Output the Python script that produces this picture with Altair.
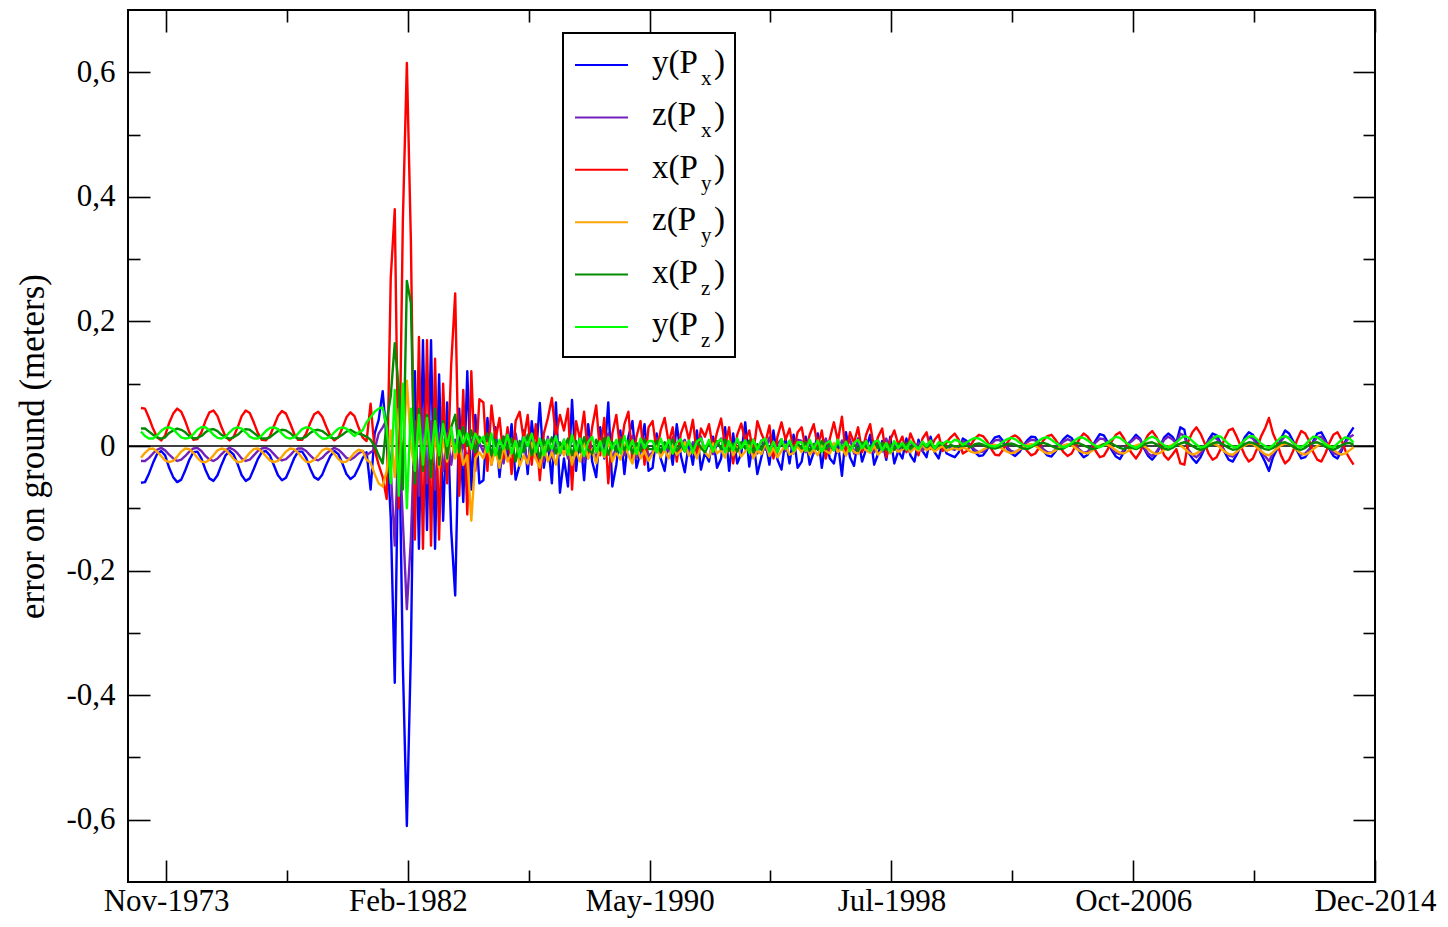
import altair as alt
import pandas as pd

# ---------------- data (in millimetres) ----------------
START_DATE = "1973-01-23"   # first sample
STEP_DAYS = 50              # sampling step of the series

# y(Px)  blue
y_Px = [
    -59,-58,-44,-27,-13,-8,-15,-35,-50,-58,-54,-39,-22,-10,-9,-20,-38,-52,-56,-47,-30,-15,-8,-14,-29,-47,-56,-52,-37,-21,-10,-8,-15,-31,-47,-55,-51,-36,-20,-9,-9,-19,-36,-50,-54,-46,-30,-16,-8,-13,-28,-45,-53,
    -48,-35,-20,-10,-70,20,42,88,10,-115,-380,60,-350,-610,-330,120,-165,170,-135,170,-165,115,-120,70,-135,-240,60,-90,120,-70,50,-60,
    -55,45,-30,30,-50,15,-20,35,-54,-30,25,-45,40,-20,69,-35,10,-60,70,-75,
    -20,-65,74,-40,20,-55,35,-25,-50,30,-20,70,-65,-30,25,-45,15,40,-35,-10,35,-40,
    -35,20,-20,-40,10,-30,35,-15,-42,5,-30,25,-38,-10,-25,15,-35,-20,30,-40,20,-28,-12,38,-33,10,-45,-18,8,-30,25,-22,-38,12,-28,18,-35,
    -25,15,-30,-10,20,-35,10,-20,-28,5,-48,22,-18,-32,12,-25,-5,18,-30,-12,8,-22,15,-28,-8,
    -20,12,-15,-25,10,-8,-18,15,-10,-20,5,-12,-15,-18,-10,
    12,8,0,-10,-16,-15,-6,5,14,16,8,-4,-12,-16,-10,0,9,15,14,4,-8,-15,-17,-9,2,11,17,13,2,-10,-18,-14,-3,9,19,17,6,-7,-17,-21,-10,4,
    10,18,12,-4,-16,-22,-14,0,14,20,15,5,30,26,-10,-20,-27,-18,-4,10,20,17,5,-10,-22,-25,-14,0,14,22,18,5,-12,-25,-40,-18,-5,12,25,20,8,-8,-20,-18,-8,8,20,22,10,-5,-16,-20,-8,8,20,30,
]

# z(Px)  indigo
z_Px = [
    -24,-24,-19,-12,-6,-3,-7,-14,-20,-24,-22,-16,-9,-4,-3,-8,-16,-22,-24,-20,-13,-7,-3,-6,-12,-20,-24,-22,-15,-8,-4,-3,-6,-13,-20,-23,-21,-15,-8,-4,-4,-8,-15,-21,-23,-19,-12,-7,-3,-6,-12,-19,-22,
    -18,-12,-8,-15,-10,-6,20,30,42,-38,-160,30,-120,-262,-150,40,-80,60,-60,40,-70,20,-40,20,-30,10,-25,5,-20,10,-15,5,
    -10,15,-25,10,-5,-28,12,-15,20,-20,5,-30,18,-10,10,-25,15,-20,8,-15,
    10,-20,18,-12,5,-25,15,-8,-18,12,-10,20,-22,0,14,-15,6,16,-20,2,12,-16,
    -10,12,-15,5,-8,14,-12,3,10,-14,6,-5,15,-11,8,-13,2,12,-9,7,-15,10,-4,13,-10,5,-12,9,-6,14,-13,4,11,-8,6,-12,10,
    8,-10,5,-12,10,-6,12,-9,3,-11,9,-4,11,-12,6,-8,10,-5,-10,7,-9,12,-7,4,-11,
    4,-6,7,-3,5,-8,2,6,-5,3,-7,0,-4,-6,-2,
    8,5,0,-6,-10,-9,-4,3,9,10,5,-2,-8,-10,-6,0,6,10,9,3,-5,-10,-11,-6,1,7,11,8,1,-6,-11,-9,-2,6,12,11,4,-4,-11,-13,-6,3,
    8,14,10,-2,-12,-16,-10,0,10,15,11,4,20,16,-6,-14,-18,-12,-2,8,14,12,3,-8,-15,-17,-10,0,10,15,12,3,-8,-16,-24,-12,-3,8,16,13,5,-6,-14,-12,-5,6,14,15,7,-4,-11,-14,-5,6,14,18,
]

# x(Py)  red
x_Py = [
    61,60,45,28,14,9,17,37,52,60,55,40,22,10,11,22,40,54,57,48,30,15,9,15,30,48,57,53,38,21,10,9,16,32,48,56,52,37,20,10,10,20,37,51,55,47,31,16,9,14,29,46,54,
    48,30,14,8,68,-6,-30,-50,-85,270,380,-100,360,615,330,-150,175,-165,170,-160,140,-150,100,-60,130,245,-80,90,-110,120,-40,75,
    70,-40,65,10,45,-20,30,-45,40,55,10,50,-30,35,-55,20,45,77,15,50,
    25,60,-70,40,10,55,-20,30,65,-15,45,-60,20,50,-10,35,55,-25,15,40,-30,30,
    40,-10,25,45,5,30,-25,20,38,10,42,-15,28,15,35,-5,22,44,0,30,-28,18,36,8,25,-12,40,20,5,33,-20,15,38,10,28,-8,22,
    30,-5,18,35,0,25,-20,12,38,8,47,-15,22,5,30,-10,18,35,-5,15,28,-18,10,25,2,
    15,-10,20,5,-15,12,22,-5,10,18,-8,6,14,20,10,
    -12,-8,2,12,18,16,8,-4,-14,-15,-6,5,14,17,12,2,-8,-15,-12,-2,9,16,18,10,0,-10,-16,-12,0,12,20,15,5,-8,-18,-16,-5,8,18,22,12,-2,
    -12,-20,-10,5,18,24,15,2,-15,-22,-14,-5,-28,-30,8,22,30,20,5,-12,-22,-18,-5,12,25,28,15,0,-15,-25,-20,-5,15,28,45,20,5,-15,-28,-22,-8,10,24,20,8,-10,-22,-25,-12,5,18,22,10,-8,-20,-30,
]

# z(Py)  orange
z_Py = [
    -19,-11,-5,-4,-9,-16,-23,-26,-24,-17,-9,-4,-5,-11,-19,-25,-26,-22,-15,-7,-4,-6,-13,-21,-26,-25,-19,-11,-5,-4,-9,-16,-23,-26,-24,-17,-9,-4,-5,-11,-19,-25,-26,-22,-15,-7,-4,-6,-13,-21,-26,-25,-19,
    -11,-6,-8,-22,-27,-45,-60,-65,-40,25,-50,60,-30,105,0,-40,40,-30,30,-40,20,-35,10,-25,15,-20,5,-30,-15,-120,-20,-10,
    -20,5,-30,-5,-35,0,-25,-10,8,-32,-15,-28,5,-20,-35,0,-25,-10,-30,5,
    -15,5,-30,-8,-25,8,-20,-5,-28,0,-18,10,-25,-10,-22,3,-15,-28,5,-20,-8,-24,
    -12,5,-18,-6,-20,2,-14,-8,6,-16,-4,-20,0,-10,-18,4,-12,-6,-19,8,-15,-2,-17,-9,3,-20,-7,-13,5,-16,-3,-18,-8,2,-14,-11,0,
    -10,3,-14,-5,-15,2,-8,-12,5,-10,-3,-15,0,-9,-13,4,-7,-11,1,-14,-6,3,-12,-4,-9,
    -6,2,-10,-3,-8,3,-7,-2,-9,-4,0,-8,-5,-3,-6,
    -2,-5,-9,-11,-10,-6,-2,1,2,-1,-5,-9,-12,-10,-6,-2,2,3,0,-4,-9,-12,-11,-7,-2,1,3,1,-3,-8,-11,-12,-8,-3,1,3,2,-2,-7,-11,-12,-8,
    -3,1,3,0,-5,-10,-13,-11,-6,-1,2,4,1,-4,-10,-14,-12,-7,-2,2,4,2,-3,-9,-13,-14,-9,-3,1,4,3,-2,-8,-13,-15,-10,-4,1,4,3,-1,-7,-12,-14,-10,-5,0,3,4,0,-6,-11,-14,-12,-7,-2,
]

# x(Pz)  dark green
x_Pz = [
    28,28,23,18,14,12,14,21,25,28,26,22,16,12,13,16,22,26,27,24,18,14,12,14,18,24,27,26,21,16,12,12,14,19,24,26,25,21,15,12,12,15,21,25,26,24,19,14,12,14,18,23,26,
    22,20,18,15,10,0,-15,-28,40,80,165,90,-70,265,230,-60,60,-40,50,-50,60,-30,40,-20,30,50,-10,30,0,25,-10,15,
    5,20,-15,10,-20,15,-5,12,-25,8,-10,18,-15,5,-20,10,-8,14,-12,6,
    -5,12,-15,8,-10,14,-6,-12,10,-8,13,-14,6,-9,11,-7,9,-12,5,-8,10,-5,
    -5,8,-10,6,-4,10,-8,3,-9,7,-6,9,-3,-10,5,-7,8,-5,10,-8,4,-9,6,-4,9,-10,3,-6,8,-7,5,-9,7,-3,8,-6,4,
    -4,6,-8,3,-6,8,-5,2,-7,5,-3,7,-6,4,-8,6,-2,-5,7,-4,5,-7,3,-6,4,
    -3,4,-5,2,-4,5,-2,3,-4,1,4,-3,2,-1,0,
    0,1,-2,3,4,2,-1,-3,-4,-2,1,3,4,2,-1,-4,-5,-2,2,4,5,3,0,-3,-5,-4,0,3,5,4,1,-2,-5,-4,-1,3,5,4,0,-3,-5,-2,
    -3,-5,-2,2,5,6,3,-1,-4,-6,-3,1,4,6,4,0,-4,-6,-4,0,4,6,5,1,-3,-6,-5,-1,3,6,5,2,-2,-5,-6,-3,1,5,6,3,-1,-5,-6,-3,2,5,6,3,-1,-4,-6,-3,1,4,5,2,
]

# y(Pz)  lime green
y_Pz = [
    23,16,12,12,17,24,29,30,27,20,14,12,13,19,26,30,30,25,18,13,12,15,22,28,30,28,22,15,12,12,17,24,29,30,27,20,14,12,14,20,27,30,29,24,17,12,12,15,22,28,30,28,22,
    16,22,25,38,46,55,60,62,30,-60,90,-80,100,-100,60,-40,50,-30,45,-20,40,-15,35,0,30,-10,25,5,20,-5,20,5,
    15,-10,20,-15,10,-5,18,-12,8,-18,14,0,20,-10,12,-15,10,-5,16,-12,
    10,-14,18,-8,12,-16,6,15,-10,8,-15,14,-5,10,-12,16,-6,9,-13,12,-4,8,
    8,-10,12,-6,10,-12,5,11,-8,9,-11,7,12,-5,10,-9,6,11,-10,8,-7,12,-4,9,-11,10,-6,8,12,-9,7,-10,11,-5,9,-8,6,
    6,-8,10,-5,9,-10,4,8,-7,10,-6,7,-9,5,10,-4,8,-8,6,9,-7,5,-10,8,-3,
    5,-6,8,2,-5,7,0,9,-4,6,3,8,5,10,8,
    2,6,10,13,12,8,3,0,-1,2,7,11,13,11,6,2,-1,0,4,9,13,14,10,5,1,-2,0,5,10,14,13,9,4,0,-2,1,6,11,15,13,8,3,
    0,-3,1,7,12,15,12,6,1,-2,0,6,12,16,14,8,2,-2,-1,5,11,16,15,9,3,-1,-2,3,10,15,16,11,4,0,-3,1,8,14,16,12,5,0,-2,2,9,15,14,9,3,-1,-2,4,10,14,12,6,
]

SERIES_NAMES = ["y(Px)", "z(Px)", "x(Py)", "z(Py)", "x(Pz)", "y(Pz)"]
SERIES_VALUES = [y_Px, z_Px, x_Py, z_Py, x_Pz, y_Pz]
SERIES_COLORS = ["#0000ff", "#7221bc", "#ff0000", "#ffa500", "#008b00", "#00ff00"]
LEGEND_MAIN = ["y(P", "z(P", "x(P", "z(P", "x(P", "y(P"]
LEGEND_SUB = ["x", "x", "y", "y", "z", "z"]

Y_TICKS = [-0.6, -0.4, -0.2, 0.0, 0.2, 0.4, 0.6]
Y_MINOR = [-0.5, -0.3, -0.1, 0.1, 0.3, 0.5]
X_TICK_FIRST = "1973-11-30"   # Nov-1973
X_TICK_STEP = 3001            # days between labelled ticks

# ---------------- build ----------------
n = len(y_Px)
for nm, vals in zip(SERIES_NAMES, SERIES_VALUES):
    if len(vals) != n:
        raise ValueError(f"{nm}: {len(vals)} values, expected {n}")

dates = pd.date_range(START_DATE, periods=n, freq=f"{STEP_DAYS}D").strftime("%Y-%m-%dT00:00:00")


def dt(ts):
    return alt.DateTime(year=int(ts.year), month=int(ts.month), date=int(ts.day))


t0 = pd.Timestamp(X_TICK_FIRST)
x_major = [dt(t0 + pd.Timedelta(days=X_TICK_STEP * k)) for k in range(6)]
x_minor = [dt(t0 + pd.Timedelta(days=X_TICK_STEP * k + X_TICK_STEP // 2)) for k in range(5)]

SERIF = "Liberation Serif"
xscale = alt.Scale(domain=[alt.DateTime(year=1972, month=8, date=15),
                           alt.DateTime(year=2014, month=12, date=30)], nice=False)
yscale = alt.Scale(domain=[-0.7, 0.7], nice=False, zero=False)

MAJ, MIN = 22, 12


def tick_axis(orient, values, size):
    return alt.Axis(orient=orient, values=values, offset=-size, tickSize=size, tickWidth=1.6,
                    tickColor="black", labels=False, domain=False, grid=False, title=None)


x_axes = [
    alt.Axis(orient="bottom", values=x_major, format="%b-%Y", formatType="time", ticks=False,
             domain=False, grid=False, labelFont=SERIF, labelFontSize=31, labelColor="black",
             labelPadding=4, labelFlush=False, labelOverlap=False, title=None),
    tick_axis("bottom", x_major, MAJ),
    tick_axis("bottom", x_minor, MIN),
    tick_axis("top", x_major, MAJ),
    tick_axis("top", x_minor, MIN),
    None,
]
y_axes = [
    alt.Axis(orient="left", values=Y_TICKS,
             labelExpr="datum.value == 0 ? '0' : (datum.value < 0 ? '-' : '') + replace(format(abs(datum.value), '.1f'), '.', ',')",
             ticks=False, domain=False, grid=False, labelFont=SERIF, labelFontSize=31,
             labelColor="black", labelPadding=13, labelFlush=False, labelOverlap=False,
             title="error on ground (meters)", titleFont=SERIF, titleFontSize=35,
             titleFontWeight="normal", titleColor="black", titleX=-96, titleY=436,
             titleAngle=270, titleAlign="center", titleBaseline="middle"),
    tick_axis("left", Y_TICKS, MAJ),
    tick_axis("left", Y_MINOR, MIN),
    tick_axis("right", Y_TICKS, MAJ),
    tick_axis("right", Y_MINOR, MIN),
    None,
]

layers = []
zero = alt.Chart(pd.DataFrame({"z": [0.0]})).mark_rule(color="black", strokeWidth=1.5).encode(
    y=alt.Y("z:Q", scale=yscale, axis=None))
layers.append(zero)

for k in range(6):
    df = pd.DataFrame({"date": dates, "value": [v / 1000.0 for v in SERIES_VALUES[k]]})
    layers.append(
        alt.Chart(df).mark_line(strokeWidth=2.4, color=SERIES_COLORS[k], strokeJoin="round").encode(
            x=alt.X("date:T", scale=xscale, axis=x_axes[k]),
            y=alt.Y("value:Q", scale=yscale, axis=y_axes[k]),
        )
    )

# ---------------- legend (drawn inside the plot) ----------------
leg = pd.DataFrame({"row": list(range(6)), "main": LEGEND_MAIN, "sub": LEGEND_SUB,
                    "color": SERIES_COLORS})
ROW0, ROWSTEP = 55, 52.4
lbase = alt.Chart(leg).transform_calculate(
    ly=f"{ROW0} + {ROWSTEP} * datum.row",
    tb=f"{ROW0 + 8} + {ROWSTEP} * datum.row",
    sb=f"{ROW0 + 20} + {ROWSTEP} * datum.row",
)
box = alt.Chart(pd.DataFrame({"a": [0]})).mark_rect(fill="white", stroke="black", strokeWidth=2).encode(
    x=alt.value(435), x2=alt.value(607), y=alt.value(23), y2=alt.value(347))
swatch = lbase.mark_rule(strokeWidth=2).encode(
    x=alt.value(447), x2=alt.value(500),
    y=alt.Y("ly:Q", scale=None, axis=None),
    color=alt.Color("color:N", scale=None, legend=None))
main_txt = lbase.mark_text(font=SERIF, fontSize=33, align="left", baseline="alphabetic", color="black").encode(
    x=alt.value(524), y=alt.Y("tb:Q", scale=None, axis=None), text="main:N")
sub_txt = lbase.mark_text(font=SERIF, fontSize=21, align="left", baseline="alphabetic", color="black").encode(
    x=alt.value(573), y=alt.Y("sb:Q", scale=None, axis=None), text="sub:N")
paren_txt = lbase.mark_text(font=SERIF, fontSize=33, align="left", baseline="alphabetic", color="black").encode(
    x=alt.value(586), y=alt.Y("tb:Q", scale=None, axis=None), text=alt.value(")"))

layers += [box, swatch, main_txt, sub_txt, paren_txt]

chart = alt.layer(*layers).resolve_axis(x="independent", y="independent").properties(
    width=1247, height=872,
    padding={"left": 120, "top": 2, "right": 65, "bottom": 37},
    autosize=alt.AutoSizeParams(type="none"),
    background="white",
).configure_view(stroke="black", strokeWidth=2)

chart.save("out.html", embed_options={"renderer": "svg", "actions": False})
